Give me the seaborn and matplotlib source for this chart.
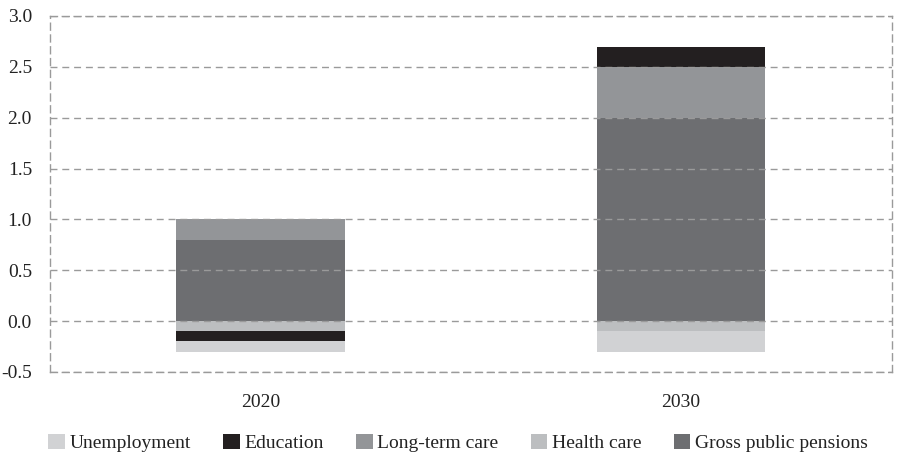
import numpy as np
import pandas as pd
import seaborn as sns
import matplotlib
matplotlib.use("Agg")
import matplotlib.pyplot as plt
from matplotlib.patches import Patch

years = ["2020", "2030"]
# stacking order from the zero line outwards
pensions = [0.8, 2.0]
health = [-0.1, -0.1]
ltc = [0.2, 0.5]
education = [-0.1, 0.2]
unemployment = [-0.1, -0.2]

series = ["Gross public pensions", "Health care", "Long-term care", "Education", "Unemployment"]
values = [pensions, health, ltc, education, unemployment]
colors = ["#6d6e71", "#bcbec0", "#939598", "#231f20", "#d1d2d4"]

sns.set_theme(style="white")
plt.rcParams["font.family"] = ["Liberation Serif", "DejaVu Serif"]

fig = plt.figure(figsize=(9, 4.57), dpi=100)
ax = fig.add_axes([0.0556, 0.186, 0.935, 0.779])

pos_base = np.zeros(len(years))
neg_base = np.zeros(len(years))
for name, vals, col in zip(series, values, colors):
    vals = np.array(vals, dtype=float)
    bottom = np.where(vals >= 0, pos_base, neg_base)
    df = pd.DataFrame({"year": years, "value": vals})
    sns.barplot(data=df, x="year", y="value", color=col, width=0.4,
                bottom=bottom, ax=ax, zorder=1, edgecolor="none",
                linewidth=0, saturation=1)
    pos_base = pos_base + np.where(vals >= 0, vals, 0)
    neg_base = neg_base + np.where(vals < 0, vals, 0)

ax.set_xlim(-0.5, 1.5)
ax.set_ylim(-0.5, 3.0)
ax.set_yticks(np.arange(-0.5, 3.01, 0.5))
ax.set_yticklabels([f"{t:.1f}" for t in np.arange(-0.5, 3.01, 0.5)])
ax.set_xlabel("")
ax.set_ylabel("")

dash = (0, (5, 3.5))
ax.yaxis.grid(True, color="#9a9a9a", linestyle=dash, linewidth=1, zorder=3)
ax.set_axisbelow(False)
for side in ["left", "right", "top", "bottom"]:
    ax.spines[side].set_visible(True)
    ax.spines[side].set_color("#9a9a9a")
    ax.spines[side].set_linestyle(dash)
    ax.spines[side].set_linewidth(1)
    ax.spines[side].set_zorder(3)

ax.tick_params(axis="y", length=0, pad=13, labelsize=14, colors="#222222")
ax.tick_params(axis="x", length=0, pad=16, labelsize=14, colors="#222222")

order = ["Unemployment", "Education", "Long-term care", "Health care", "Gross public pensions"]
handles = [Patch(facecolor=colors[series.index(s)], edgecolor="none", label=s) for s in order]
fig.legend(handles=handles, loc="center", ncol=5, frameon=False,
           bbox_to_anchor=(0.509, 0.031), fontsize=14, handlelength=0.85,
           handleheight=0.85, handletextpad=0.25, columnspacing=1.65,
           labelcolor="#222222")

fig.savefig("out.png", dpi=100)
